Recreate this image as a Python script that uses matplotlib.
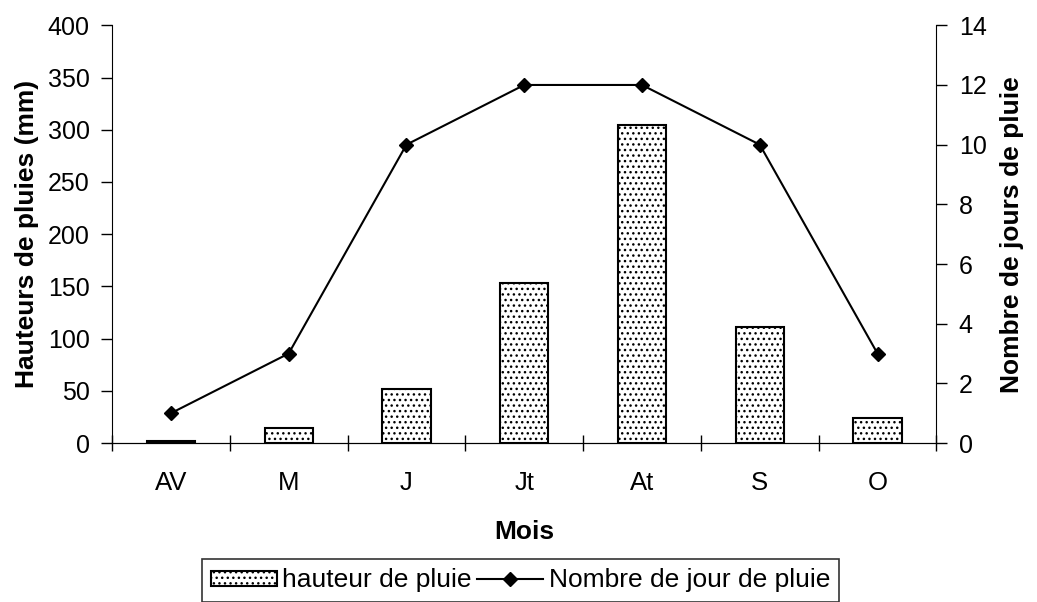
import numpy as np
import matplotlib.pyplot as plt

plt.rcParams['font.family'] = ['Liberation Sans', 'DejaVu Sans']
plt.rcParams['hatch.linewidth'] = 1.0

# données
mois = ['AV', 'M', 'J', 'Jt', 'At', 'S', 'O']
hauteur = [2, 14, 52, 153, 305, 111, 24]
jours = [1, 3, 10, 12, 12, 10, 3]

x = np.arange(len(mois))

fig = plt.figure(figsize=(10.37, 6.02), dpi=100)
ax = fig.add_axes([0.108, 0.264, 0.795, 0.694])

bars = ax.bar(x, hauteur, width=0.41, facecolor='white', edgecolor='black',
              linewidth=1.5, hatch='...', label='hauteur de pluie', zorder=2)

ax.set_xlim(-0.5, len(mois) - 0.5)
ax.set_ylim(0, 400)
ax.set_yticks(range(0, 401, 50))
ax.set_xticks(np.arange(-0.5, len(mois), 1), minor=False)
ax.set_xticklabels([])
ax.set_xticks(x, minor=True)
ax.set_xticklabels(mois, minor=True, fontsize=18.5)
ax.tick_params(axis='x', which='minor', length=0, pad=20)
ax.tick_params(axis='x', which='major', direction='inout', length=12, width=1)
ax.tick_params(axis='y', direction='out', length=8, width=1, labelsize=18, pad=8)
ax.spines['top'].set_visible(False)
ax.spines['right'].set_visible(False)
ax.set_ylabel('Hauteurs de pluies (mm)', fontsize=19, fontweight='bold', labelpad=6)
ax.set_xlabel('Mois', fontsize=19, fontweight='bold', labelpad=18)

ax2 = ax.twinx()
ax2.plot(x, jours, color='black', marker='D', markersize=7, linewidth=1.5,
         label='Nombre de jour de pluie')
ax2.set_ylim(0, 14)
ax2.set_yticks(range(0, 15, 2))
ax2.tick_params(axis='y', direction='out', length=8, width=1, labelsize=18, pad=8)
ax2.spines['top'].set_visible(False)
ax2.spines['left'].set_visible(False)
ax2.set_ylabel('Nombre de jours de pluie', fontsize=19, fontweight='bold', labelpad=10)

h1, l1 = ax.get_legend_handles_labels()
h2, l2 = ax2.get_legend_handles_labels()
leg = fig.legend(h1 + h2, l1 + l2, loc='upper center', bbox_to_anchor=(0.502, 0.071),
                 ncol=2, fontsize=19, frameon=True, fancybox=False, edgecolor='black',
                 handlelength=2.5, handleheight=0.5, handletextpad=0.2, columnspacing=0.2,
                 borderaxespad=0, borderpad=0.35)
leg.get_frame().set_linewidth(1.2)

fig.savefig('out.png', dpi=100)
